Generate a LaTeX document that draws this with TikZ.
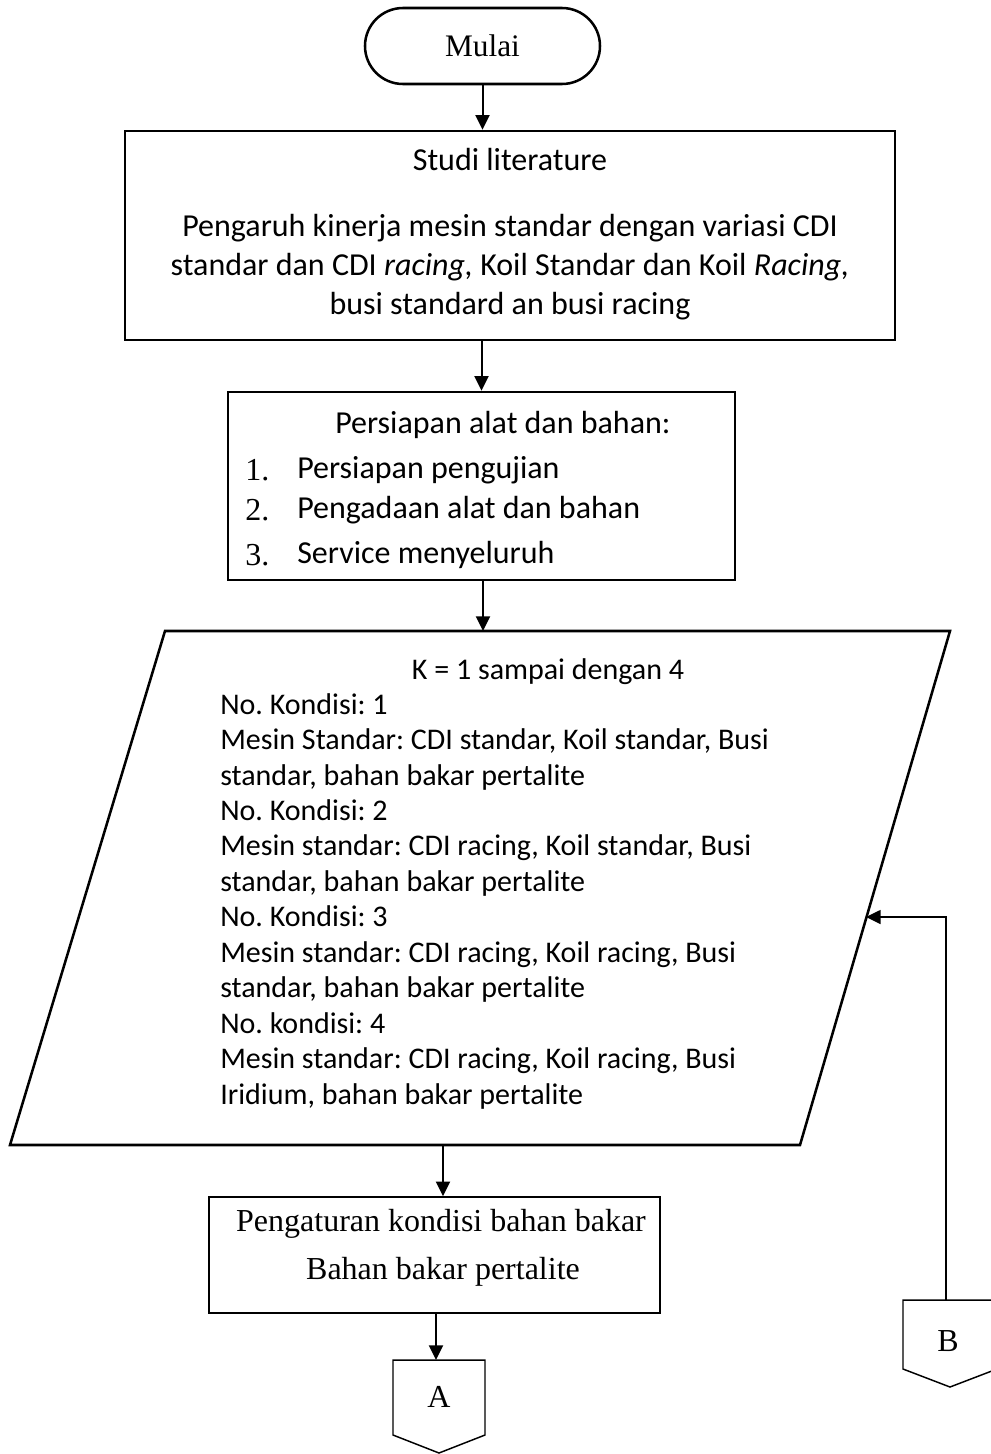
\documentclass[tikz,border=0pt]{standalone}
\usepackage{fontspec}
\setmainfont{Liberation Serif}
\newfontfamily\calibri{Carlito}
\usetikzlibrary{arrows.meta}
\frenchspacing

\begin{document}
\begin{tikzpicture}[x=0.75pt,y=-0.75pt,
  frame/.style={draw, line width=1.9pt, inner sep=0pt},
  thinframe/.style={draw, line width=1.1pt, inner sep=0pt},
  flow/.style={line width=1.5pt, -{Triangle[length=11pt,width=10.5pt]}},
  serif/.style={font=\fontsize{24}{29}\selectfont, inner sep=0pt},
  sans/.style={font=\calibri\fontsize{24}{29.25}\selectfont, inner sep=0pt},
  sanssmall/.style={font=\calibri\fontsize{22.5}{26.6}\selectfont, inner sep=0pt}]

\useasboundingbox (0,0) rectangle (990,1454);

% start terminator
\node[frame, rounded corners=28.5pt, minimum width=176.25pt, minimum height=57pt,
      font=\fontsize{23.5}{28}\selectfont] (mulai) at (482.5,46) {Mulai};

% literature study
\node[frame, minimum width=577.5pt, minimum height=156.75pt] (studi) at (510,235.5) {};
\node[sans] (studi-t) at (510,160) {Studi literature};
\node[sans, align=center] (studi-d) at (510,267)
  {Pengaruh kinerja mesin standar dengan variasi CDI\\
   standar dan CDI \textit{racing,} Koil Standar dan Koil \textit{Racing,}\\
   busi standard an busi racing};

% preparation
\node[frame, minimum width=380.25pt, minimum height=141pt] (prep) at (481.5,486) {};
\node[sans, anchor=west] (prep-t) at (335,425) {Persiapan alat dan bahan:};
\node[serif, anchor=west] (n1) at (245,470) {1.};
\node[sans, anchor=west] (i1) at (297,470) {Persiapan pengujian};
\node[serif, anchor=west] (n2) at (245,510) {2.};
\node[sans, anchor=west] (i2) at (297,510) {Pengadaan alat dan bahan};
\node[serif, anchor=west] (n3) at (245,555) {3.};
\node[sans, anchor=west] (i3) at (297,555) {Service menyeluruh};

% input/output: test conditions
\coordinate (ptl) at (165,631);
\coordinate (ptr) at (950,631);
\coordinate (pbr) at (800,1145);
\coordinate (pbl) at (10,1145);
\draw[line width=1.9pt, line join=miter] (ptl) -- (ptr) -- (pbr) -- (pbl) -- cycle;
\coordinate (p-top) at (483,631);
\coordinate (p-bot) at (443,1145);
\coordinate (p-in) at (866,917);
\node[sanssmall] (k) at (548,672) {K = 1 sampai dengan 4};
\node[sanssmall, anchor=north west, align=left] (cond) at (220,693)
  {No. Kondisi: 1\\
   Mesin Standar: CDI standar, Koil standar, Busi\\
   standar, bahan bakar pertalite\\
   No. Kondisi: 2\\
   Mesin standar: CDI racing, Koil standar, Busi\\
   standar, bahan bakar pertalite\\
   No. Kondisi: 3\\
   Mesin standar: CDI racing, Koil racing, Busi\\
   standar, bahan bakar pertalite\\
   No. kondisi: 4\\
   Mesin standar: CDI racing, Koil racing, Busi\\
   Iridium, bahan bakar pertalite};

% fuel setting
\node[thinframe, minimum width=338.25pt, minimum height=87pt] (atur) at (434.5,1255) {};
\node[serif] (atur-1) at (441,1224) {Pengaturan kondisi bahan bakar};
\node[serif] (atur-2) at (443,1272) {Bahan bakar pertalite};

% off-page connectors
\draw[line width=1.1pt] (393,1360) -- (485,1360) -- (485,1435) -- (439,1453) -- (393,1435) -- cycle;
\coordinate (a-top) at (436,1360);
\node[serif] (a) at (439,1397) {A};
\draw[line width=1.1pt] (903,1300) -- (997,1300) -- (997,1369) -- (950,1387) -- (903,1369) -- cycle;
\coordinate (b-top) at (946,1300);
\node[serif] (b) at (948,1341) {B};

% flow lines
\draw[flow] (mulai.south) -- (mulai.south |- studi.north);
\draw[flow] (studi.south -| prep.north) -- (prep.north);
\draw[flow] (prep.south -| p-top) -- (p-top);
\draw[flow] (p-bot) -- (p-bot |- atur.north);
\draw[flow] (atur.south -| a-top) -- (a-top);
\draw[flow, line width=1.2pt] (b-top) -- (b-top |- p-in) -- (p-in);

\end{tikzpicture}
\end{document}
